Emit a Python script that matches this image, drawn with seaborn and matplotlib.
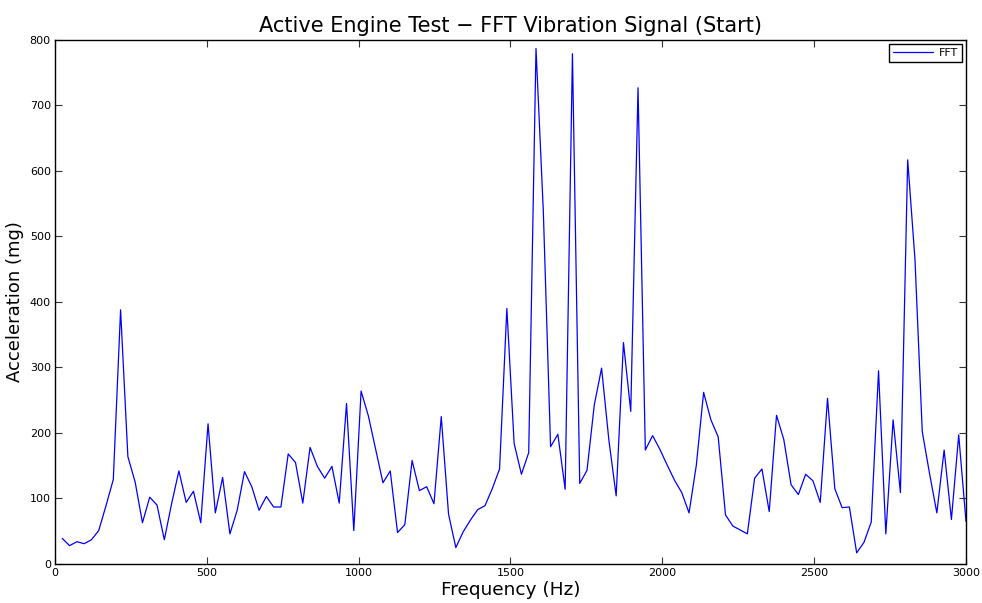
import matplotlib
matplotlib.use("Agg")
import matplotlib.pyplot as plt
import seaborn as sns
import pandas as pd

# Frequency bins (Hz)
freq_hz = [
    24, 48, 72, 96, 120, 144, 168, 192, 216, 240,
    264, 288, 312, 336, 360, 384, 408, 432, 456, 480,
    504, 528, 552, 576, 600, 624, 648, 672, 696, 720,
    744, 768, 792, 816, 840, 864, 888, 912, 936, 960,
    984, 1008, 1032, 1056, 1080, 1104, 1128, 1152, 1176, 1200,
    1224, 1248, 1272, 1296, 1320, 1344, 1368, 1392, 1416, 1440,
    1464, 1488, 1512, 1536, 1560, 1584, 1608, 1632, 1656, 1680,
    1704, 1728, 1752, 1776, 1800, 1824, 1848, 1872, 1896, 1920,
    1944, 1968, 1992, 2016, 2040, 2064, 2088, 2112, 2136, 2160,
    2184, 2208, 2232, 2256, 2280, 2304, 2328, 2352, 2376, 2400,
    2424, 2448, 2472, 2496, 2520, 2544, 2568, 2592, 2616, 2640,
    2664, 2688, 2712, 2736, 2760, 2784, 2808, 2832, 2856, 2880,
    2904, 2928, 2952, 2976, 3000,
]

# FFT magnitude (mg)
accel_mg = [
    39, 28, 34, 31, 37, 51, 89, 129, 388, 164,
    125, 63, 102, 90, 37, 92, 142, 94, 111, 63,
    214, 78, 132, 46, 82, 141, 118, 82, 103, 87,
    87, 168, 155, 93, 178, 149, 131, 149, 93, 245,
    51, 264, 226, 175, 124, 142, 48, 60, 158, 112,
    118, 92, 225, 76, 25, 49, 67, 83, 89, 115,
    145, 390, 184, 137, 170, 787, 540, 179, 198, 114,
    779, 123, 143, 243, 299, 189, 104, 338, 233, 727,
    174, 196, 175, 151, 128, 109, 78, 151, 262, 220,
    194, 75, 58, 52, 46, 131, 145, 80, 227, 190,
    121, 106, 137, 127, 94, 253, 115, 86, 87, 17,
    33, 64, 295, 46, 220, 109, 617, 465, 202, 138,
    78, 174, 68, 197, 65,
]

series_label = "FFT"
x_ticks = [0, 500, 1000, 1500, 2000, 2500, 3000]
y_ticks = [0, 100, 200, 300, 400, 500, 600, 700, 800]

df = pd.DataFrame({"Frequency": freq_hz, "Acceleration": accel_mg})

sns.set_style("ticks")
plt.rcParams["font.family"] = ["DejaVu Sans"]
plt.rcParams["text.color"] = "black"
plt.rcParams["axes.labelcolor"] = "black"

fig = plt.figure(figsize=(9.82, 6.03), dpi=100)
ax = fig.add_axes([0.056, 0.0647, 0.9277, 0.869])

sns.lineplot(data=df, x="Frequency", y="Acceleration", ax=ax,
             color="#0000FF", linewidth=0.9, label=series_label)

ax.set_xlim(0, 3000)
ax.set_ylim(0, 800)
ax.set_xticks(x_ticks)
ax.set_yticks(y_ticks)
ax.set_xticklabels([str(t) for t in x_ticks])
ax.set_yticklabels([str(t) for t in y_ticks])

for s in ax.spines.values():
    s.set_visible(True)
    s.set_color("black")
    s.set_linewidth(1.0)

ax.tick_params(axis="both", direction="in", length=5, width=0.8,
               colors="#333333", labelcolor="black", labelsize=8,
               top=True, right=True, pad=3)

ax.set_title("Active Engine Test \u2212 FFT Vibration Signal (Start)",
             fontsize=15, pad=6, color="black")
ax.set_xlabel("Frequency (Hz)", fontsize=13.3, labelpad=2, color="black")
ax.set_ylabel("Acceleration (mg)", fontsize=13, labelpad=4, color="black")

leg = ax.legend(loc="upper right", fontsize=8, frameon=True, fancybox=False,
                framealpha=1, edgecolor="black", borderpad=0.35,
                handlelength=3.6, handletextpad=0.5, borderaxespad=0.4)
leg.get_frame().set_linewidth(1.0)
for t in leg.get_texts():
    t.set_color("black")

fig.savefig("out.png", dpi=100)
